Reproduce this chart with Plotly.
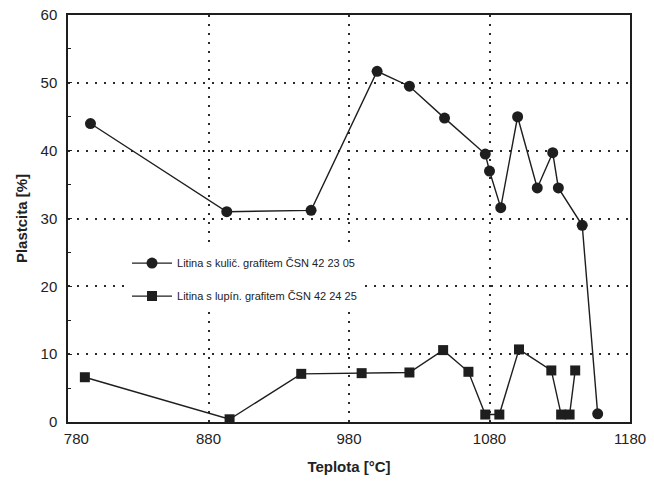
import plotly.graph_objects as go

# Series 1: Litina s kulič. grafitem ČSN 42 23 05 (circles)
temp_kulic = [796, 893, 953, 1000, 1023, 1048, 1077, 1080, 1088, 1100, 1114, 1125, 1129, 1146, 1157]
plast_kulic = [44.0, 31.0, 31.2, 51.7, 49.5, 44.8, 39.5, 37.0, 31.6, 45.0, 34.5, 39.7, 34.5, 29.0, 1.2]

# Series 2: Litina s lupín. grafitem ČSN 42 24 25 (squares)
temp_lupin = [792, 895, 946, 989, 1023, 1047, 1065, 1077, 1087, 1101, 1124, 1131, 1137, 1141]
plast_lupin = [6.6, 0.4, 7.1, 7.2, 7.3, 10.6, 7.4, 1.1, 1.1, 10.7, 7.6, 1.1, 1.1, 7.6]

name_kulic = "Litina s kulič. grafitem ČSN 42 23 05"
name_lupin = "Litina s lupín. grafitem ČSN 42 24 25"

x_ticks = [780, 880, 980, 1080, 1180]
x_labels = ["\u00a0\u00a0\u00a0\u00a0780", "880", "980", "1080", "1180"]
y_ticks = [0, 10, 20, 30, 40, 50, 60]

ink = "#1e1e1e"
FONT = "Liberation Sans, Arial, sans-serif"

fig = go.Figure()
fig.add_trace(go.Scatter(
    x=temp_kulic, y=plast_kulic, mode="lines+markers", name=name_kulic,
    legendgroup="a",
    line=dict(color=ink, width=1.4),
    marker=dict(symbol="circle", size=11, color=ink),
))
fig.add_trace(go.Scatter(
    x=temp_lupin, y=plast_lupin, mode="lines+markers", name=name_lupin,
    legendgroup="b",
    line=dict(color=ink, width=1.4),
    marker=dict(symbol="square", size=10, color=ink),
))

axis_common = dict(
    showline=True, linecolor=ink, linewidth=1.5, mirror=True,
    showgrid=True, gridcolor="#2a2a2a", gridwidth=1.5, griddash="2px,7px",
    zeroline=False, automargin=False,
    tickfont=dict(family=FONT, size=15, color="#222"),
)

fig.update_xaxes(
    range=[780, 1180], tickvals=x_ticks, ticktext=x_labels,
    title=dict(text="<b>Teplota [°C]</b>", font=dict(family=FONT, size=15, color="#222"), standoff=16),
    ticks="", ticklabelstandoff=2, **axis_common,
)
fig.update_yaxes(
    range=[0, 60], tickvals=y_ticks, ticktext=[str(v) for v in y_ticks],
    title=dict(text="<b>Plastcita [%]</b>", font=dict(family=FONT, size=15, color="#222"), standoff=9),
    ticks="inside", ticklen=4, tickcolor=ink, ticklabelstandoff=6,
    minor=dict(dtick=5, ticks="inside", ticklen=3, tickcolor=ink, showgrid=False),
    **axis_common,
)

fig.update_layout(
    width=654, height=482,
    margin=dict(l=68, r=24, t=15, b=60),
    paper_bgcolor="white", plot_bgcolor="white",
    font=dict(family=FONT, color="#222"),
    legend=dict(
        x=0.105, y=0.426, xanchor="left", yanchor="top",
        bgcolor="white", borderwidth=0,
        font=dict(size=11, color="#222"),
        tracegroupgap=14, itemwidth=40,
    ),
    showlegend=True,
)

fig.write_html("out.html")
